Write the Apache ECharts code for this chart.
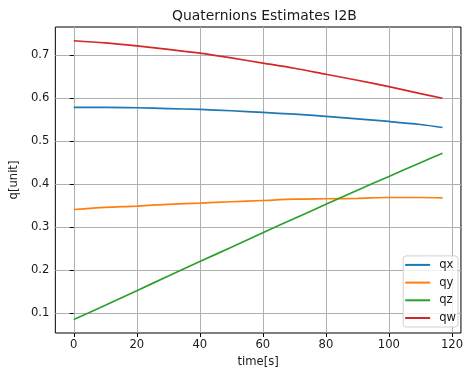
<!DOCTYPE html>
<html>
<head>
<meta charset="utf-8">
<script src="https://cdn.jsdelivr.net/npm/echarts@6/dist/echarts.min.js"></script>
<style>html,body{margin:0;padding:0;background:#fff}#c{width:466px;height:375px}</style>
</head>
<body>
<div id="c"></div>
<script>
const time = [0, 10, 20, 30, 40, 50, 60, 70, 80, 90, 100, 110, 117];
const qx = [0.579, 0.579, 0.578, 0.576, 0.574, 0.571, 0.567, 0.563, 0.558, 0.552, 0.546, 0.539, 0.532];
const qy = [0.341, 0.346, 0.349, 0.353, 0.356, 0.359, 0.362, 0.365, 0.366, 0.367, 0.369, 0.369, 0.368];
const qz = [0.085, 0.118, 0.152, 0.186, 0.220, 0.253, 0.287, 0.320, 0.353, 0.386, 0.418, 0.450, 0.472];
const qw = [0.734, 0.729, 0.722, 0.714, 0.705, 0.694, 0.682, 0.670, 0.656, 0.642, 0.627, 0.611, 0.600];
const xTicks = [0, 20, 40, 60, 80, 100, 120];
const yTicks = [0.1, 0.2, 0.3, 0.4, 0.5, 0.6, 0.7];
const names = ['qx', 'qy', 'qz', 'qw'];
const colors = ['#1f77b4', '#ff7f0e', '#2ca02c', '#d62728'];

const font = 'DejaVu Sans';
const txt = '#1a1a1a';
const fs = 11.6;
const pair = arr => time.map((t, i) => [t, arr[i]]);

const chart = echarts.init(document.getElementById('c'));
chart.setOption({
  animation: false,
  title: {
    text: 'Quaternions Estimates I2B',
    left: 167, top: 4,
    textStyle: {fontFamily: font, fontSize: 13.9, fontWeight: 'normal', color: txt}
  },
  grid: {left: 54, right: 1, top: 27, bottom: 42, show: true, borderColor: '#000', borderWidth: 1, backgroundColor: 'transparent'},
  legend: {
    data: names,
    orient: 'vertical',
    right: 8, bottom: 48,
    icon: 'rect', itemWidth: 25, itemHeight: 2, itemGap: 3.7,
    padding: [2, 2, 2, 2],
    backgroundColor: 'rgba(255,255,255,0.8)',
    borderColor: '#d0d0d0', borderWidth: 1, borderRadius: 3,
    textStyle: {fontFamily: font, fontSize: fs, color: txt, lineHeight: 14, padding: [0, 0, 0, 4]}
  },
  xAxis: {
    type: 'value', min: -5.85, max: 122.85,
    name: 'time[s]', nameLocation: 'middle', nameGap: 23,
    nameTextStyle: {fontFamily: font, fontSize: fs, color: txt},
    axisLine: {show: false},
    axisTick: {show: true, inside: false, length: 4, lineStyle: {color: '#000'}, customValues: xTicks},
    axisLabel: {customValues: xTicks, fontFamily: font, fontSize: fs, color: txt, margin: 6, formatter: v => String(v)},
    splitLine: {show: true, lineStyle: {color: '#b0b0b0', width: 1}}
  },
  yAxis: {
    type: 'value', min: 0.0534, max: 0.766,
    name: 'q[unit]', nameLocation: 'middle', nameGap: 29,
    nameTextStyle: {fontFamily: font, fontSize: fs, color: txt},
    axisLine: {show: false},
    axisTick: {show: true, inside: false, length: 4, lineStyle: {color: '#000'}, customValues: yTicks},
    axisLabel: {customValues: yTicks, fontFamily: font, fontSize: fs, color: txt, margin: 6, formatter: v => v.toFixed(1)},
    splitLine: {show: true, lineStyle: {color: '#b0b0b0', width: 1}}
  },
  series: [qx, qy, qz, qw].map((arr, i) => ({
    name: names[i], type: 'line', data: pair(arr), symbol: 'none', smooth: 0.3,
    color: colors[i], lineStyle: {width: 1.7, color: colors[i]}
  }))
});
</script>
</body>
</html>
